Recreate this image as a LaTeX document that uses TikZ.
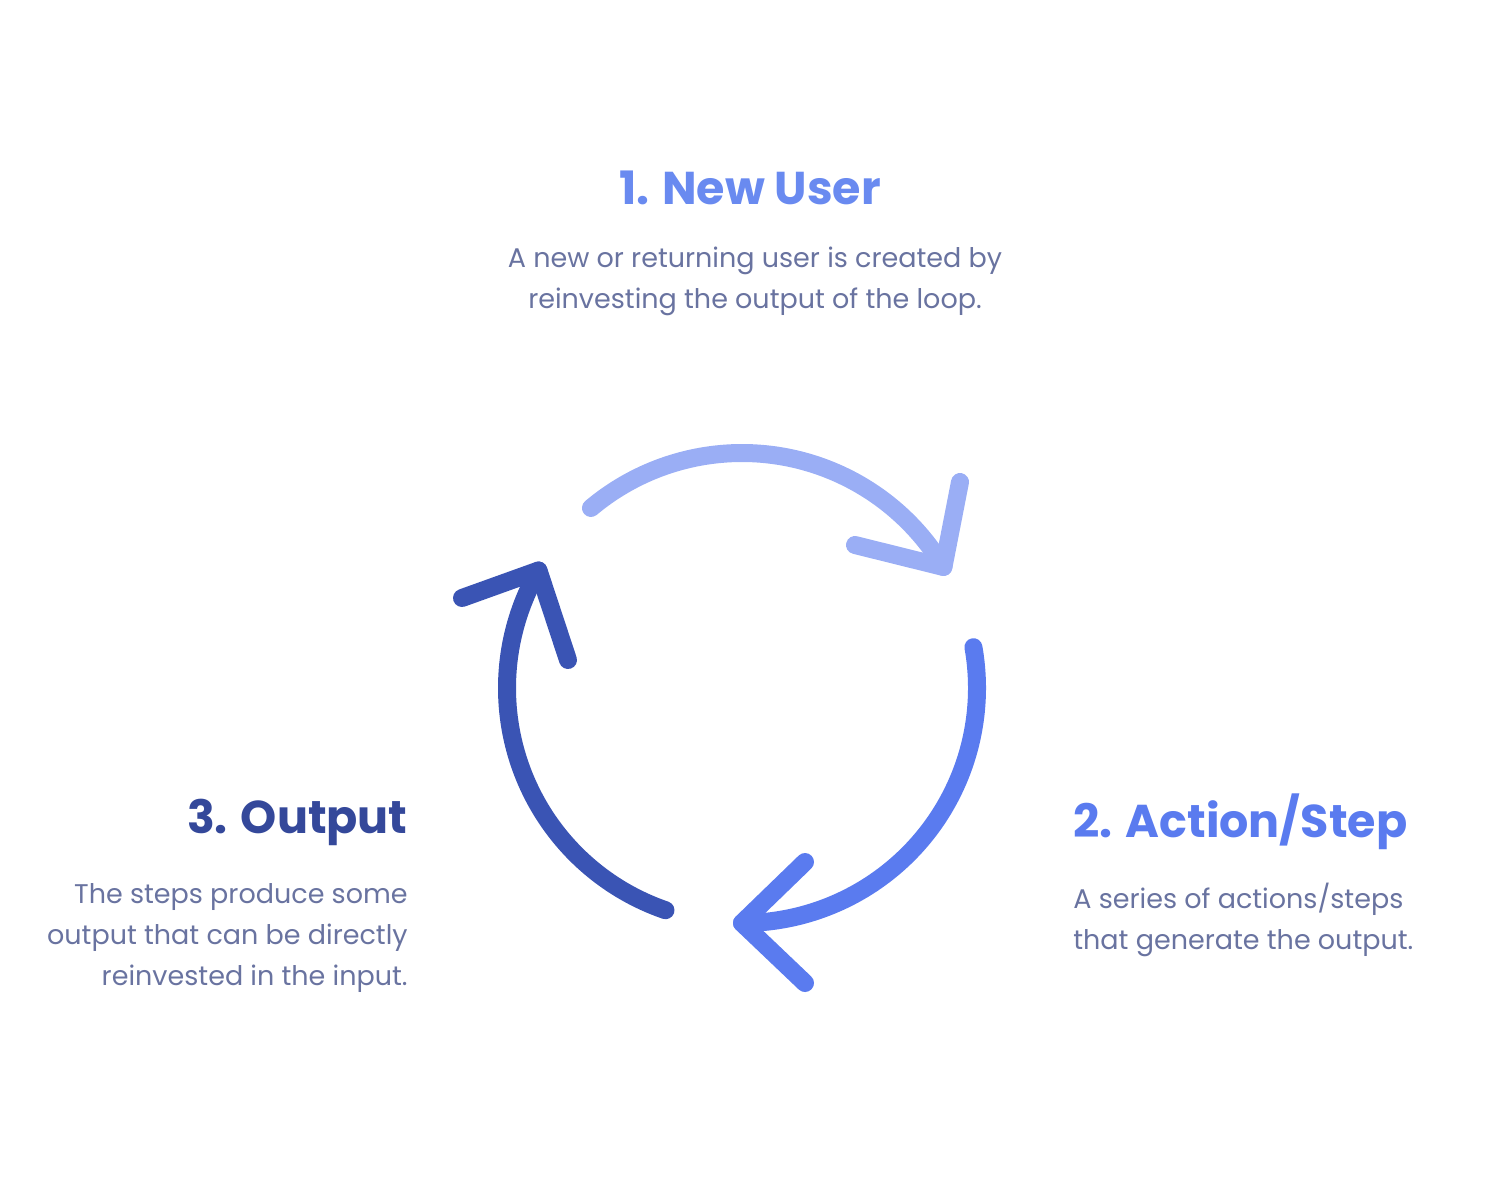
\documentclass[tikz,border=0pt]{standalone}
\usepackage{fontspec}
\setmainfont{Poppins}
\usetikzlibrary{positioning}
\definecolor{lightblue}{RGB}{154,174,245}
\definecolor{midblue}{RGB}{90,123,239}
\definecolor{darkblue}{RGB}{58,84,180}
\definecolor{titleone}{RGB}{105,138,240}
\definecolor{titlethree}{RGB}{52,72,154}
\definecolor{bodygray}{RGB}{105,115,160}
\tikzset{every picture/.style={line width=0.75pt}}
\tikzset{
  loop/.style={line width=18pt, line cap=round, line join=round},
  title/.style={font=\fontsize{46}{50}\selectfont\bfseries, inner sep=0pt},
  body/.style={font=\fontsize{27}{41}\selectfont, text=bodygray, inner sep=0pt}
}
\begin{document}
\begin{tikzpicture}[x=1pt,y=1pt,yscale=-1,xscale=1]
\useasboundingbox (0,0) rectangle (1500,1200);

% loop arcs
\coordinate (c) at (742,688);
\draw[loop, lightblue] ([shift={(-130:235)}]c) arc[start angle=-130, end angle=-31, radius=235] coordinate (tipa);
\draw[loop, lightblue] (960,482) -- (tipa) -- (855,545);
\draw[loop, midblue] ([shift={(-10:235)}]c) arc[start angle=-10, end angle=90, radius=235] coordinate (tipb);
\draw[loop, midblue] (805,862) -- (tipb) -- (805,983);
\draw[loop, darkblue] ([shift={(109:235)}]c) arc[start angle=109, end angle=210, radius=235] coordinate (tipc);
\draw[loop, darkblue] (462,598) -- (tipc) -- (568,660);

% texts
\node[title, text=titleone] (newuser) at (750,188) {1. New User};
\node[body, align=center] (newusertext) at (755,281) {A new or returning user is created by\\reinvesting the output of the loop.};
\node[title, text=midblue, anchor=west] (action) at (1073,822) {2. Action/Step};
\node[body, align=left, anchor=north west] (actiontext) at (1073,883) {A series of actions/steps\\that generate the output.};
\node[title, text=titlethree, anchor=east] (output) at (408,822) {3. Output};
\node[body, align=right, anchor=north east] (outputtext) at (408,883) {The steps produce some\\output that can be directly\\reinvested in the input.};
\end{tikzpicture}
\end{document}
